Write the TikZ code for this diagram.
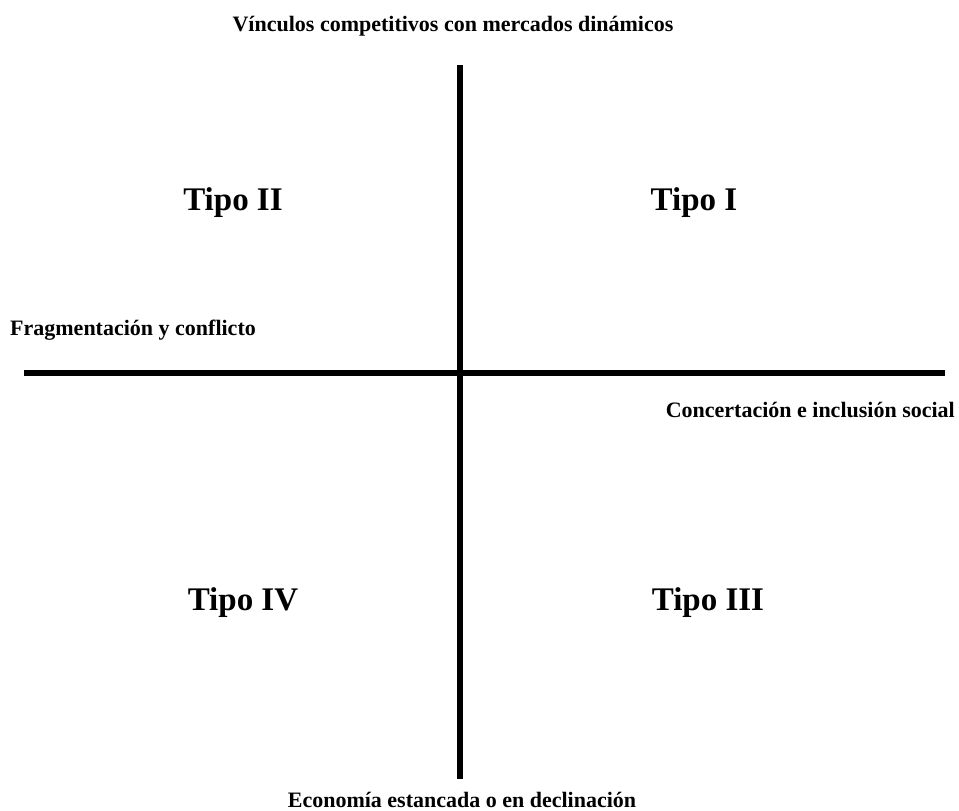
\documentclass[tikz,border=0pt]{standalone}
\usepackage{fontspec}
\setmainfont{Liberation Serif}
\begin{document}
\begin{tikzpicture}[x=1pt,y=-1pt,
  axis/.style={line width=6pt},
  axlabel/.style={font=\fontsize{22}{26}\selectfont\bfseries, inner sep=0pt},
  tipo/.style={font=\fontsize{33}{38}\selectfont\bfseries, inner sep=0pt, anchor=base}]
\useasboundingbox[fill=white] (0,0) rectangle (959,811);
\coordinate (vt) at (460,65);
\coordinate (vb) at (460,779);
\coordinate (hl) at (24,373);
\coordinate (hr) at (945,373);
\draw[axis] (vt) -- (vb);
\draw[axis] (hl) -- (hr);
\node[axlabel, anchor=base] (top) at (453,31) {Vínculos competitivos con mercados dinámicos};
\node[axlabel, anchor=base west] (left) at (10,335) {Fragmentación y conflicto};
\node[axlabel, anchor=base east] (right) at (955,417) {Concertación e inclusión social};
\node[axlabel, anchor=base] (bottom) at (462,807) {Economía estancada o en declinación};
\node[tipo] (t2) at (233,210) {Tipo II};
\node[tipo] (t1) at (694,210) {Tipo I};
\node[tipo] (t4) at (243,610) {Tipo IV};
\node[tipo] (t3) at (708,610) {Tipo III};
\end{tikzpicture}
\end{document}
